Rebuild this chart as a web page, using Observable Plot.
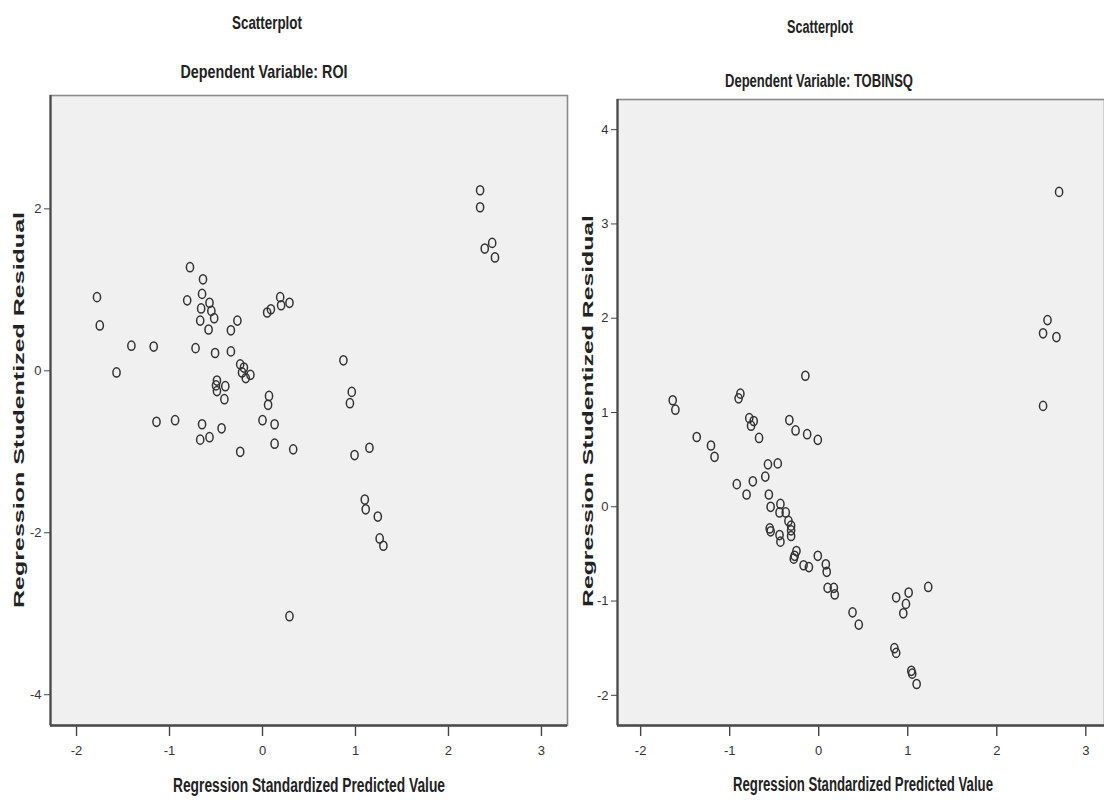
<!DOCTYPE html>
<html>
<head>
<meta charset="utf-8">
<script src="https://cdn.jsdelivr.net/npm/d3@7"></script>
<script src="https://cdn.jsdelivr.net/npm/@observablehq/plot@0.6"></script>
<style>
  html, body { margin: 0; padding: 0; background: #fff; }
  #wrap { position: relative; width: 1104px; height: 802px; overflow: hidden; }
  #wrap > svg, #wrap > figure { position: absolute; margin: 0; }
</style>
</head>
<body>
<div id="wrap"></div>
<script>
// ---------- data ----------
const xTicks = [-2, -1, 0, 1, 2, 3];
const roiYTicks = [-4, -2, 0, 2];
const tobinYTicks = [-2, -1, 0, 1, 2, 3, 4];

const roiX = [-1.78, -1.75, -1.41, -1.57, -1.17, -0.78, -0.81, -0.64, -0.65, -0.57, -0.66, -0.55, -0.52, -0.67, -0.58, -0.72,
  -0.51, -0.34, -0.27, -0.34, -0.24, -0.20, -0.22, -0.18, -0.13, -0.49, -0.50, -0.49, -0.40, -0.41, 0.05, 0.09, 0.19, 0.20,
  0.29, 0.07, 0.06, -1.14, -0.94, -0.65, -0.44, 0.00, 0.13, -0.67, -0.57, -0.24, 0.13, 0.33, 0.29, 2.34, 2.34, 2.39, 2.47,
  2.50, 0.87, 0.96, 0.94, 0.99, 1.15, 1.10, 1.11, 1.24, 1.26, 1.30];
const roiY = [0.91, 0.56, 0.31, -0.02, 0.30, 1.28, 0.87, 1.13, 0.95, 0.84, 0.77, 0.74, 0.65, 0.62, 0.51, 0.28,
  0.22, 0.50, 0.62, 0.24, 0.08, 0.04, -0.02, -0.09, -0.05, -0.12, -0.18, -0.25, -0.19, -0.35, 0.72, 0.76, 0.91, 0.81,
  0.84, -0.31, -0.42, -0.63, -0.61, -0.66, -0.71, -0.61, -0.66, -0.85, -0.82, -1.00, -0.90, -0.97, -3.03, 2.23, 2.02, 1.51, 1.58,
  1.40, 0.13, -0.26, -0.40, -1.04, -0.95, -1.59, -1.71, -1.80, -2.07, -2.16];

const tobinX = [-1.64, -1.61, -1.37, -1.21, -1.17, -0.88, -0.90, -0.78, -0.73, -0.76, -0.67, -0.15, -0.33, -0.26, -0.13, -0.01,
  -0.92, -0.81, -0.74, -0.60, -0.57, -0.46, -0.56, -0.54, -0.43, -0.44, -0.37, -0.34, -0.31, -0.31, -0.31, -0.55, -0.54, -0.44,
  -0.43, -0.25, -0.27, -0.28, -0.17, -0.11, -0.01, 0.08, 0.09, 0.10, 0.17, 0.18,
  0.38, 0.45, 0.87, 1.01, 0.98, 0.95, 1.23, 0.85, 0.87, 1.04, 1.05, 1.10,
  2.70, 2.57, 2.52, 2.67, 2.52];
const tobinY = [1.13, 1.03, 0.74, 0.65, 0.53, 1.20, 1.15, 0.94, 0.91, 0.86, 0.73, 1.39, 0.92, 0.81, 0.77, 0.71,
  0.24, 0.13, 0.27, 0.32, 0.45, 0.46, 0.13, 0.00, 0.03, -0.06, -0.06, -0.15, -0.20, -0.25, -0.31, -0.23, -0.26, -0.30,
  -0.37, -0.47, -0.52, -0.55, -0.62, -0.64, -0.52, -0.61, -0.69, -0.86, -0.86, -0.93,
  -1.12, -1.25, -0.96, -0.91, -1.03, -1.13, -0.85, -1.50, -1.55, -1.74, -1.77, -1.88,
  3.34, 1.98, 1.84, 1.80, 1.07];

const titleMain = "Scatterplot";
const roiTitle = "Dependent Variable: ROI";
const tobinTitle = "Dependent Variable: TOBINSQ";
const xLabel = "Regression Standardized Predicted Value";
const yLabel = "Regression Studentized Residual";

// ---------- drawing ----------
const NARROW = "'Liberation Sans Narrow', 'Arial Narrow', 'Liberation Sans', Arial, sans-serif";
const WIDE = "'Liberation Sans', Arial, 'DejaVu Sans', sans-serif";
const fmt = d => String(d);

const ellipse = {
  draw(ctx) {
    const rx = 3.6, ry = 4.6, k = 0.5523;
    ctx.moveTo(rx, 0);
    ctx.bezierCurveTo(rx, ry * k, rx * k, ry, 0, ry);
    ctx.bezierCurveTo(-rx * k, ry, -rx, ry * k, -rx, 0);
    ctx.bezierCurveTo(-rx, -ry * k, -rx * k, -ry, 0, -ry);
    ctx.bezierCurveTo(rx * k, -ry, rx, -ry * k, rx, 0);
    ctx.closePath();
  }
};

function scatter(xs, ys, yTicks, xDomain, yDomain, opts) {
  const data = xs.map((x, i) => ({x, y: ys[i]}));
  return Plot.plot({
    width: opts.width,
    height: 802,
    marginLeft: opts.marginLeft,
    marginRight: opts.marginRight,
    marginTop: opts.marginTop,
    marginBottom: opts.marginBottom,
    style: {background: "transparent", fontFamily: NARROW, fontSize: "13px", color: "#333", overflow: "visible"},
    x: {domain: xDomain},
    y: {domain: yDomain},
    marks: [
      Plot.frame({fill: "#f0f0f0", stroke: "#8a8a8a", strokeWidth: 1.6}),
      Plot.axisX({ticks: xTicks, tickFormat: fmt, tickSize: 11, tickPadding: 9, label: null, stroke: "#444", strokeWidth: 1.4}),
      Plot.axisY({ticks: yTicks, tickFormat: fmt, tickSize: 6, tickPadding: 3, label: null, stroke: "#444"}),
      Plot.ruleX([xDomain[0]], {stroke: "#4a4a4a", strokeWidth: 2.2}),
      Plot.ruleY([yDomain[0]], {stroke: "#4a4a4a", strokeWidth: 2.6}),
      Plot.dot(data, {x: "x", y: "y", symbol: ellipse, stroke: "#333", strokeWidth: 1.5, fill: "none"})
    ]
  });
}

const wrap = document.getElementById("wrap");

const left = scatter(roiX, roiY, roiYTicks, [-2.28, 3.28], [-4.38, 3.40],
  {width: 580, marginLeft: 50, marginRight: 13, marginTop: 95, marginBottom: 77});
left.style.left = "0px"; left.style.top = "0px";
wrap.appendChild(left);

const right = scatter(tobinX, tobinY, tobinYTicks, [-2.26, 3.21], [-2.32, 4.32],
  {width: 524, marginLeft: 37, marginRight: 0, marginTop: 99, marginBottom: 77});
right.style.left = "580px"; right.style.top = "0px";
wrap.appendChild(right);

// overlay for titles and axis labels
const overlay = d3.select(wrap).append("svg")
  .attr("width", 1104).attr("height", 802)
  .style("left", "0px").style("top", "0px").style("pointer-events", "none");

function label(text, x, y, size, len, family, adjust, rotate) {
  const t = overlay.append("text")
    .attr("text-anchor", "middle")
    .attr("font-family", family)
    .attr("font-weight", "bold")
    .attr("font-size", size)
    .attr("fill", "#222")
    .attr("textLength", len)
    .attr("lengthAdjust", adjust)
    .text(text);
  if (rotate) t.attr("transform", `translate(${x},${y}) rotate(-90)`);
  else t.attr("x", x).attr("y", y);
}

label(titleMain, 267, 29, 18, 70, NARROW, "spacingAndGlyphs");
label(roiTitle, 264, 78, 19, 167, NARROW, "spacingAndGlyphs");
label(titleMain, 820, 33, 18, 66, NARROW, "spacingAndGlyphs");
label(tobinTitle, 819, 87, 19, 188, NARROW, "spacingAndGlyphs");
label(xLabel, 309, 792, 20, 272, NARROW, "spacingAndGlyphs");
label(xLabel, 863, 791, 20, 260, NARROW, "spacingAndGlyphs");
label(yLabel, 24, 410, 15.5, 396, WIDE, "spacingAndGlyphs", true);
label(yLabel, 593, 411, 15.5, 392, WIDE, "spacingAndGlyphs", true);
</script>
</body>
</html>
